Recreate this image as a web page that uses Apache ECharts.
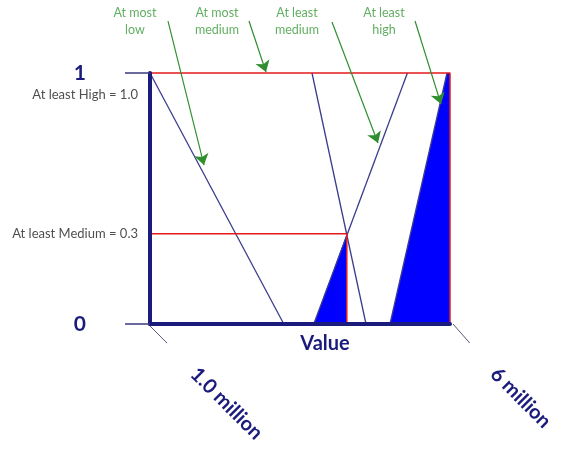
<!DOCTYPE html>
<html>
<head>
<meta charset="utf-8">
<script src="https://cdn.jsdelivr.net/npm/echarts@6/dist/echarts.min.js"></script>
<style>
  html, body { margin: 0; padding: 0; background: #fff; }
  #chart { width: 563px; height: 455px; }
</style>
</head>
<body>
<div id="chart"></div>
<script>
// 数据 (x: 百万, y: 隶属度)
var atMostLow = [[1, 1], [3.23, 0]]
var atMostMedium = [[3.7, 1], [4.6, 0]]
var atLeastMedium = [[3.73, 0], [5.29, 1]]
var atLeastHigh = [[5.0, 0], [5.95, 1]]
// 填充区域
var fillMedium = [[3.73, 0], [4.28, 0.36]]
var fillHigh = [[5.0, 0], [5.95, 1], [6, 1]]
// 红线
var redOuter = [[1, 1], [6, 1], [6, 0]]
var redMedium = [[1, 0.36], [4.28, 0.36], [4.28, 0]]
// 刻度标签
var xTickValues = [1, 6]
var xTickLabels = ['1.0 million', '6 million']
var sideLabels = [
  {text: 'At least High = 1.0', value: [0.8, 0.912]},
  {text: 'At least Medium = 0.3', value: [0.8, 0.359]}
]
// 注释
var notes = [
  {text: 'At most\nlow', value: [0.75, 1.205]},
  {text: 'At most\nmedium', value: [2.117, 1.205]},
  {text: 'At least\nmedium', value: [3.45, 1.205]},
  {text: 'At least\nhigh', value: [4.9, 1.205]}
]
var arrows = [
  [[1.30, 1.207], [1.90, 0.633]],
  [[2.65, 1.207], [2.933, 1.004]],
  [[4.033, 1.203], [4.80, 0.721]],
  [[5.417, 1.207], [5.85, 0.876]]
]
var diagTicks = [
  [[0.967, 0], [1.283, -0.076]],
  [[6.05, 0], [6.33, -0.076]]
]

var navy = '#1b1b7e'
var lineBlue = '#3c3c8e'
var red = '#e31a1c'
var green = '#2f8f2f'
var font = 'Lato'

function lineSeries (data, color, width, z) {
  return {
    type: 'line',
    data: data,
    symbol: 'none',
    clip: false,
    silent: true,
    z: z || 3,
    lineStyle: {color: color, width: width}
  }
}

var series = []
// 蓝色填充
series.push({
  type: 'line', data: fillMedium, symbol: 'none', clip: false, silent: true, z: 1,
  lineStyle: {width: 0}, areaStyle: {color: '#0000ff', opacity: 1, origin: 'start'}
})
series.push({
  type: 'line', data: fillHigh, symbol: 'none', clip: false, silent: true, z: 1,
  lineStyle: {width: 0}, areaStyle: {color: '#0000ff', opacity: 1, origin: 'start'}
})
series.push(lineSeries(atMostLow, lineBlue, 1.3))
series.push(lineSeries(atMostMedium, lineBlue, 1.3))
series.push(lineSeries(atLeastMedium, lineBlue, 1.3))
series.push(lineSeries(atLeastHigh, lineBlue, 1.3))
series.push(lineSeries(redOuter, red, 1.5, 4))
series.push(lineSeries(redMedium, red, 1.5, 4))
// x轴斜刻度
series.push({
  type: 'lines',
  coordinateSystem: 'cartesian2d',
  clip: false,
  silent: true,
  z: 3,
  lineStyle: {color: '#56567e', width: 1, opacity: 1},
  data: diagTicks.map(function (d) { return {coords: d} })
})
// 绿色箭头
series.push({
  type: 'lines',
  coordinateSystem: 'cartesian2d',
  clip: false,
  silent: true,
  z: 5,
  symbol: ['none', 'arrow'],
  symbolSize: 11,
  lineStyle: {color: green, width: 1.2, opacity: 1},
  data: arrows.map(function (d) { return {coords: d} })
})
// 左侧文字
series.push({
  type: 'scatter',
  clip: false,
  silent: true,
  symbolSize: 0,
  data: sideLabels.map(function (s) { return {value: s.value, name: s.text} }),
  label: {
    show: true,
    position: 'left',
    distance: 0,
    formatter: '{b}',
    color: '#222',
    fontFamily: font,
    fontSize: 13
  }
})
// 注释文字
series.push({
  type: 'scatter',
  clip: false,
  silent: true,
  symbolSize: 0,
  data: notes.map(function (s) { return {value: s.value, name: s.text} }),
  label: {
    show: true,
    position: 'inside',
    formatter: '{b}',
    color: '#3a9a3a',
    fontFamily: font,
    fontSize: 12.5,
    lineHeight: 17,
    align: 'center'
  }
})

var myChart = echarts.init(document.getElementById('chart'))
myChart.setOption({
  animation: false,
  grid: {left: 150, right: 113, top: 73, bottom: 131, outerBoundsMode: 'none'},
  xAxis: {
    type: 'value',
    min: 1,
    max: 6,
    z: 6,
    name: 'Value',
    nameLocation: 'middle',
    nameGap: 10,
    nameMoveOverlap: false,
    nameTextStyle: {color: navy, fontWeight: 'bold', fontSize: 20, fontFamily: font, padding: [0, 0, 0, 50]},
    axisLine: {show: true, onZero: false, lineStyle: {color: navy, width: 4}},
    axisTick: {show: false},
    splitLine: {show: false},
    axisLabel: {
      customValues: xTickValues,
      rotate: -45,
      margin: 3,
      padding: [0, 0, 0, 62],
      color: navy,
      fontWeight: 'bold',
      fontSize: 20,
      fontFamily: font,
      formatter: function (v) { return xTickLabels[xTickValues.indexOf(v)] }
    }
  },
  yAxis: {
    type: 'value',
    min: 0,
    max: 1,
    interval: 1,
    z: 6,
    axisLine: {show: true, lineStyle: {color: navy, width: 4}},
    axisTick: {show: true, length: 25, lineStyle: {color: '#3a3a80', width: 1.5}},
    splitLine: {show: false},
    axisLabel: {
      margin: 64,
      color: navy,
      fontWeight: 'bold',
      fontSize: 21,
      fontFamily: font
    }
  },
  series: series
})
</script>
</body>
</html>
